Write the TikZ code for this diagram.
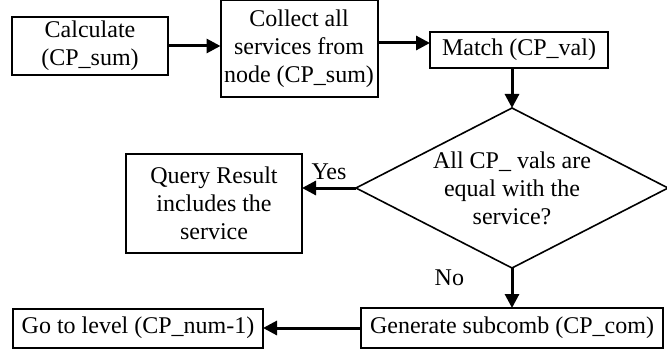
\documentclass[tikz,border=0pt]{standalone}
\usepackage{fontspec}
\setmainfont{Liberation Serif}
\usetikzlibrary{shapes.geometric,arrows.meta}

\begin{document}
\begin{tikzpicture}[x=0.5pt,y=-0.5pt,inner sep=0pt,outer sep=0pt,
  font=\fontsize{12}{14}\selectfont,
  procbox/.style={draw,rectangle,line width=1pt,align=center},
  decbox/.style={draw,diamond,aspect=2,line width=0.8pt,align=center},
  flow/.style={-{Triangle[length=7pt,width=7pt]},line width=1.5pt}]

\useasboundingbox (0,0) rectangle (667,352);

\draw (90,46) node[procbox,minimum width=78pt,minimum height=29pt] (calc) {Calculate\\(CP\_sum)};
\draw (299,48.5) node[procbox,minimum width=78.5pt,minimum height=48.5pt] (collect) {Collect all\\services from\\node (CP\_sum)};
\draw (519,50) node[procbox,minimum width=89pt,minimum height=18pt] (match) {Match (CP\_val)};
\draw (512,188) node[decbox,minimum width=156pt,minimum height=80pt] (check) {All CP\_ vals are\\equal with the\\service?};
\draw (214,203.5) node[procbox,minimum width=88pt,minimum height=49.5pt] (result) {Query Result\\includes the\\service};
\draw (512,328) node[procbox,minimum width=151pt,minimum height=20pt] (subcomb) {Generate subcomb (CP\_com)};
\draw (138,328) node[procbox,minimum width=125pt,minimum height=19.5pt] (level) {Go to level (CP\_num-1)};

\draw[flow] (calc.east) -- (collect.west |- calc.east);
\draw[flow] ([yshift=2.75pt]collect.east) -- ([yshift=2.75pt]collect.east -| match.west);
\draw[flow] (match.south -| check.north) -- (check.north);
\draw[flow] (check.west) -- (check.west -| result.east) node[pos=0.5,above=4pt] {Yes};
\draw[flow] (check.south) -- (subcomb.north -| check.south) node[pos=0.25,left=24pt] {No};
\draw[flow] (subcomb.west) -- (level.east);
\end{tikzpicture}
\end{document}
